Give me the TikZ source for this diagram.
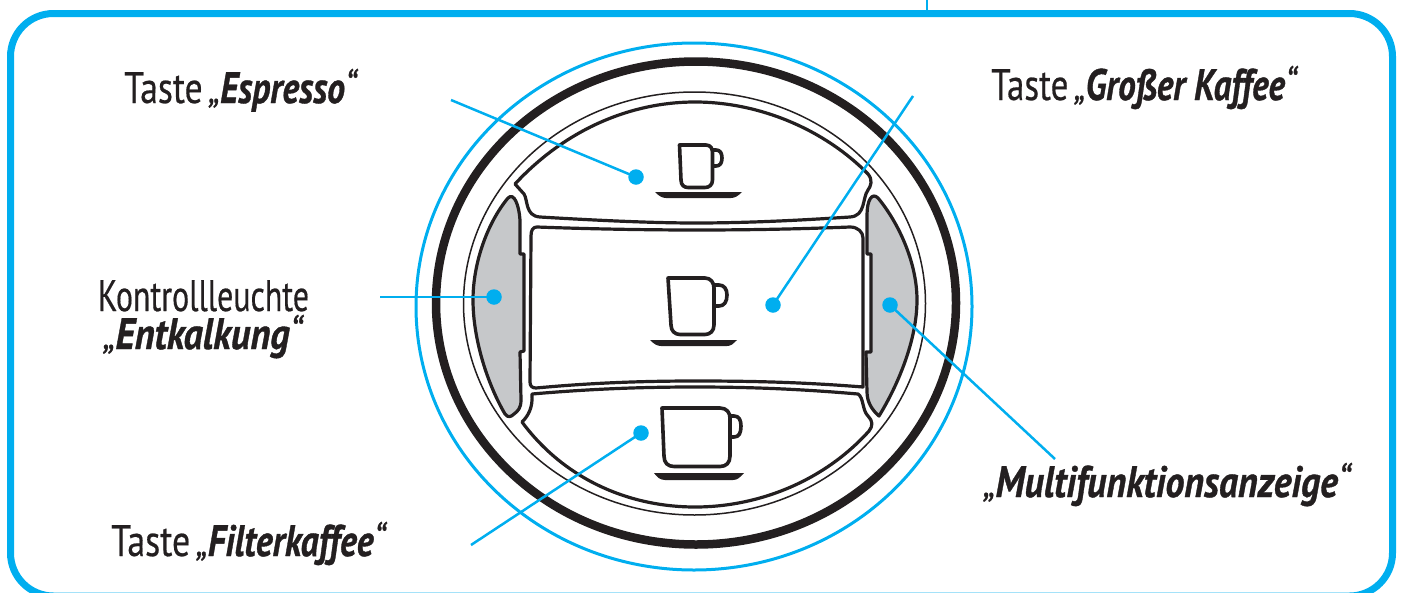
\documentclass[tikz,border=0pt]{standalone}
\usepackage{fontspec}
\setmainfont[Ligatures={NoCommon},UprightFeatures={FakeBold=0.5},BoldItalicFeatures={FakeBold=0.9},ItalicFeatures={FakeBold=0.5}]{PT Sans}
\definecolor{cblue}{HTML}{00AEEF}
\definecolor{cink}{HTML}{231F20}
\definecolor{cgray}{HTML}{C6C8CA}
\newcommand{\lblfit}[2]{\resizebox{#1pt}{\height}{\fontsize{44}{44}\selectfont #2}}
\newcommand{\bi}[1]{\textbf{\textit{#1}}}
\tikzset{
  frameline/.style={draw=cblue,line width=7pt,rounded corners=43pt},
  leader/.style={draw=cblue,line width=2.5pt},
  dotmark/.style={circle,fill=cblue,minimum size=15.5pt,inner sep=0pt},
  btn/.style={draw=cink,line width=3.2pt,line join=round},
  lamp/.style={draw=cink,fill=cgray,line width=3.2pt,line join=round},
  cup/.style={draw=cink,line width=3.6pt,line join=round},
  saucer/.style={fill=cink,draw=none},
  lbl/.style={anchor=base west,inner sep=0pt,text=cink},
}
\begin{document}
\begin{tikzpicture}[x=1pt,y=-1pt]
\useasboundingbox (0,0) rectangle (1403,592);
% frame
\draw[frameline] (10.5,300) -- (10.5,13.5) -- (1392.5,13.5) -- (1392.5,300);
\begin{scope}
\clip (0,0) rectangle (1403,592);
\draw[frameline] (10.5,300) -- (10.5,596) -- (1392.5,596) -- (1392.5,300);
\end{scope}
\coordinate (tickTop) at (927,0);
\coordinate (tickFoot) at (927,13);
\draw[leader] (tickTop) -- (tickFoot);
% rings
\draw[cblue,line width=3pt] (694,306.5) ellipse [x radius=278,y radius=263.5];
\draw[cink,line width=8.5pt] (696,303) ellipse [x radius=260,y radius=241.5];
\draw[cink,line width=1.5pt] (694.5,303.5) ellipse [x radius=231,y radius=211.5];
% lamps
\draw[lamp] (508,198) .. controls (488,222) and (473,262) .. (473,300)
  .. controls (473,340) and (488,385) .. (505,414)
  .. controls (508,418) and (511,417) .. (514,414)
  .. controls (518,411) and (521,408) .. (521,400)
  -- (520,352) -- (524,351) -- (524,254) -- (520,254) -- (520,220)
  .. controls (519,205) and (514,192) .. (508,198) -- cycle;
\draw[lamp] (878,198) .. controls (898,222) and (917,262) .. (917,300)
  .. controls (917,340) and (898,385) .. (879,416)
  .. controls (872,410) and (867,402) .. (867,392)
  -- (866,352) -- (871,352) -- (871,254) -- (867,254) -- (867,215)
  .. controls (867,200) and (872,192) .. (878,198) -- cycle;
% buttons
\draw[btn] (515,184) .. controls (565,130) and (630,102) .. (695,102)
  .. controls (760,102) and (825,130) .. (868,174)
  .. controls (873,180) and (871,186) .. (868,190)
  .. controls (862,198) and (866,216) .. (850,217)
  .. controls (790,221) and (740,223) .. (695,223)
  .. controls (650,223) and (590,220) .. (540,217)
  .. controls (525,216) and (528,200) .. (524,194) -- cycle;
\draw[btn] (531,236) .. controls (531,230) and (533,227) .. (537,227)
  .. controls (590,229) and (650,230) .. (695,230)
  .. controls (750,230) and (800,229) .. (850,227)
  .. controls (858,227) and (863,232) .. (863,238)
  -- (863,387) .. controls (800,382) and (750,381) .. (695,381)
  .. controls (640,381) and (590,383) .. (536,388)
  .. controls (532,388) and (530,386) .. (530,382) -- cycle;
\draw[btn] (532,394) .. controls (590,389) and (640,387) .. (695,387)
  .. controls (750,387) and (800,389) .. (858,394)
  .. controls (864,398) and (862,410) .. (868,416)
  .. controls (873,421) and (873,426) .. (869,431)
  .. controls (825,480) and (760,507) .. (695,507)
  .. controls (630,507) and (565,480) .. (522,422)
  .. controls (528,416) and (533,408) .. (532,394) -- cycle;
% cups
\draw[cup] (679.5,145) -- (706,145) .. controls (711,145) and (712.5,149) .. (712.5,153)
  -- (712.5,180) .. controls (712.5,185) and (709,187.5) .. (705,187.5)
  -- (688,187.5) .. controls (684,187.5) and (681,185) .. (681,180) -- cycle;
\draw[cup] (713,150) -- (716,150) .. controls (720,150) and (722,153) .. (722,158)
  .. controls (722,163) and (720,166) .. (716,166) -- (713,166);
\fill[saucer] (655,192) -- (742,192) .. controls (738,196) and (735,198) .. (731,198)
  -- (666,198) .. controls (662,198) and (659,196) .. (655,192) -- cycle;
\draw[cup] (668,278) -- (705,278) .. controls (711,278) and (714,283) .. (714,288)
  -- (714,325) .. controls (714,331) and (710,334.5) .. (705,334.5)
  -- (680,334.5) .. controls (675,334.5) and (671,331) .. (671,325) -- cycle;
\draw[cup] (715,285) -- (719,285) .. controls (724,285) and (727,289) .. (727,295)
  .. controls (727,302) and (724,306) .. (719,306) -- (715,306);
\fill[saucer] (650,340) -- (737,340) .. controls (733,344) and (731,346) .. (727,346)
  -- (661,346) .. controls (657,346) and (654,344) .. (650,340) -- cycle;
\draw[cup] (662,408) -- (720,408) .. controls (727,408) and (730,413) .. (730,418)
  -- (730,456) .. controls (730,463) and (726,466.5) .. (720,466.5)
  -- (674,466.5) .. controls (668,466.5) and (664,463) .. (664,456) -- cycle;
\draw[cup] (731,416) -- (734,416) .. controls (739,416) and (741,420) .. (741,426)
  .. controls (741,433) and (739,437) .. (734,437) -- (731,437);
\fill[saucer] (654,473) -- (744,473) .. controls (740,477) and (738,480) .. (733,480)
  -- (665,480) .. controls (660,480) and (657,477) .. (654,473) -- cycle;
% dots and leaders
\node[dotmark] (dEsp) at (636,177) {};
\node[dotmark] (dGross) at (773,305) {};
\node[dotmark] (dEnt) at (494,297) {};
\node[dotmark] (dMulti) at (890,305) {};
\node[dotmark] (dFilter) at (641,433) {};
\coordinate (fEsp) at (451,100);
\coordinate (fGross) at (913,96);
\coordinate (fEnt) at (380,297);
\coordinate (fMulti) at (1055,459);
\coordinate (fFilter) at (471,545);
\draw[leader] (fEsp) -- (dEsp.center);
\draw[leader] (fGross) -- (dGross.center);
\draw[leader] (fEnt) -- (dEnt.center);
\draw[leader] (fMulti) -- (dMulti.center);
\draw[leader] (fFilter) -- (dFilter.center);
% labels
\node[lbl] (tEsp) at (124,103) {\lblfit{234}{Taste\,\textit{„}\bi{Espresso}\textit{“}}};
\node[lbl] (tGross) at (991,100) {\lblfit{307}{Taste\,\textit{„}\bi{Großer Kaffee}\textit{“}}};
\node[inner sep=0pt,text=cink,align=center,font=\fontsize{44}{38}\selectfont,anchor=base] (tEnt) at (203.5,349)
  {\lblfit{211}{Kontrollleuchte}\\\lblfit{201}{\textit{„}\bi{Entkalkung}\textit{“}}};
\node[lbl] (tFilter) at (111,556) {\lblfit{276}{Taste\,\textit{„}\bi{Filterkaffee}\textit{“}}};
\node[lbl] (tMulti) at (983,497) {\lblfit{369}{\textit{„}\bi{Multifunktionsanzeige}\textit{“}}};
\end{tikzpicture}
\end{document}
